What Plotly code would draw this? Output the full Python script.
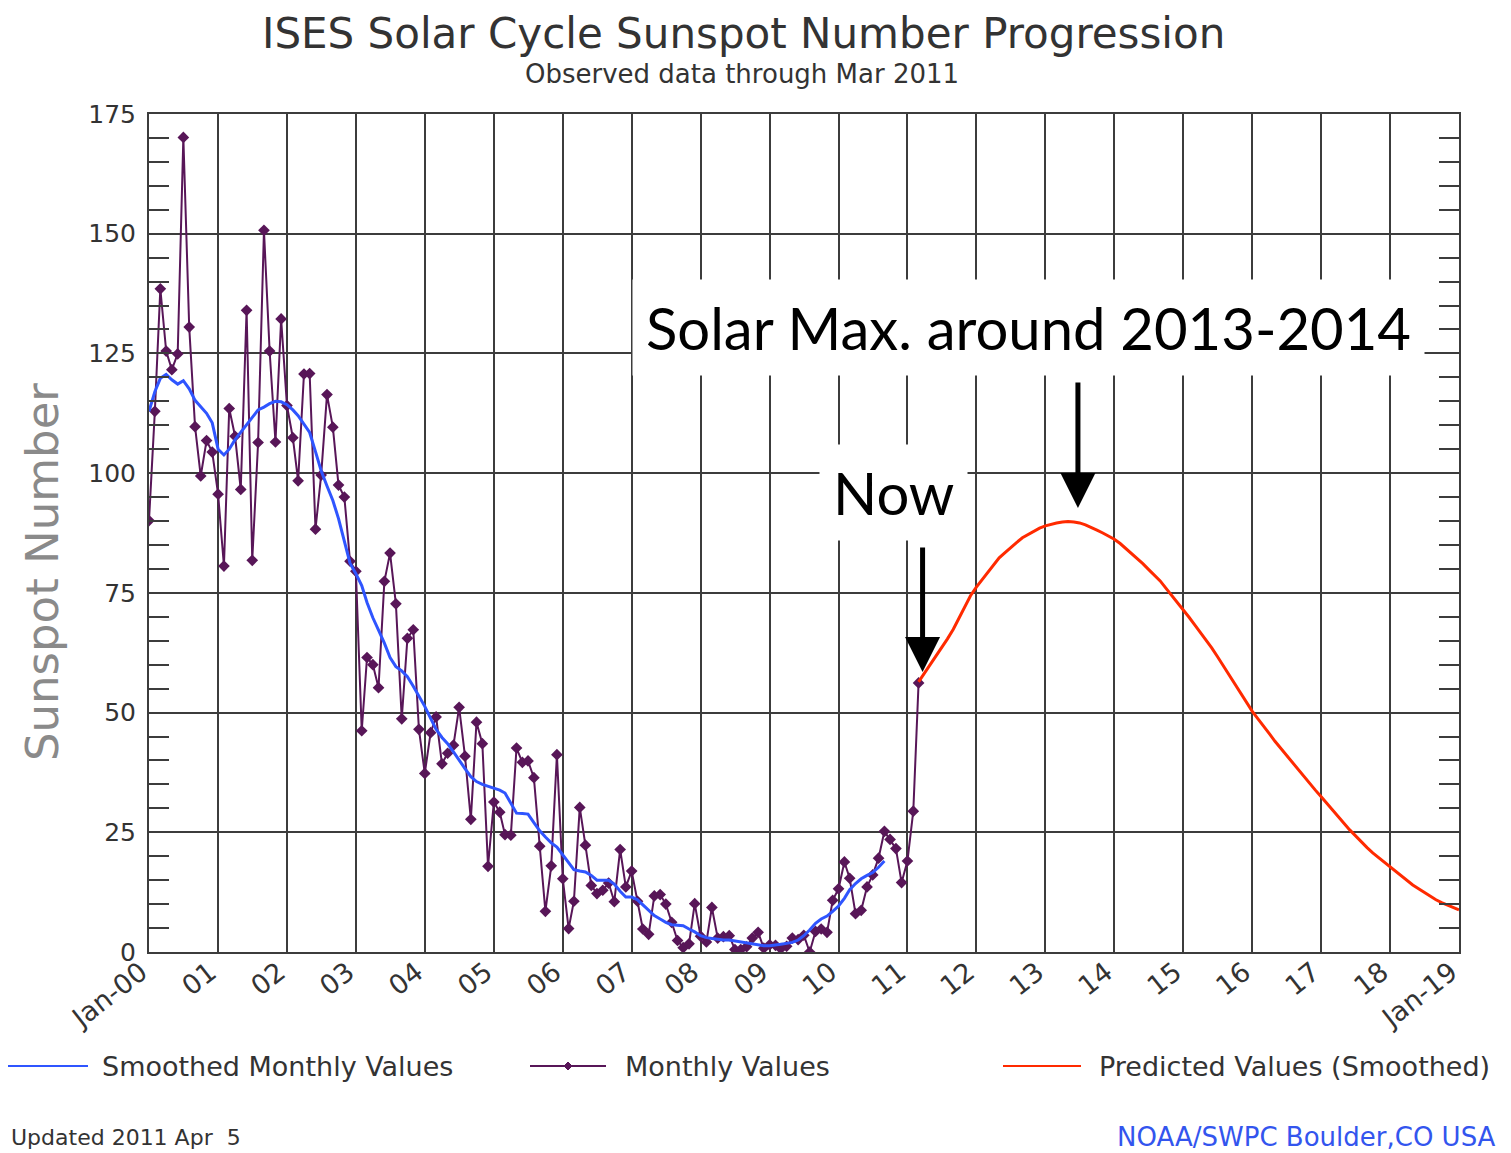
import plotly.graph_objects as go
import pandas as pd

# ---------------- data ----------------
monthly_values = [
    # 2000
    90.1, 112.9, 138.5, 125.5, 121.6, 124.9, 170.1, 130.5, 109.7, 99.4, 106.8, 104.4,
    # 2001
    95.6, 80.6, 113.5, 107.7, 96.6, 134.0, 81.8, 106.4, 150.7, 125.5, 106.5, 132.2,
    # 2002
    114.1, 107.4, 98.4, 120.7, 120.8, 88.3, 99.6, 116.4, 109.6, 97.5, 95.0, 81.6,
    # 2003
    79.5, 46.2, 61.5, 60.0, 55.2, 77.4, 83.3, 72.7, 48.7, 65.5, 67.3, 46.5,
    # 2004
    37.3, 45.8, 49.1, 39.3, 41.5, 43.2, 51.1, 40.9, 27.7, 48.0, 43.5, 17.9,
    # 2005
    31.3, 29.2, 24.5, 24.4, 42.6, 39.6, 39.9, 36.4, 22.1, 8.5, 18.0, 41.2,
    # 2006
    15.3, 4.9, 10.6, 30.2, 22.3, 13.9, 12.2, 12.9, 14.4, 10.5, 21.4, 13.6,
    # 2007
    16.9, 10.6, 4.8, 3.7, 11.7, 12.0, 10.0, 6.2, 2.4, 0.9, 1.7, 10.1,
    # 2008
    3.3, 2.1, 9.3, 2.9, 3.2, 3.4, 0.5, 0.5, 1.1, 2.9, 4.1, 0.8,
    # 2009
    1.5, 1.4, 0.7, 1.2, 2.9, 2.6, 3.5, 0.0, 4.3, 4.8, 4.1, 10.8,
    # 2010
    13.2, 18.8, 15.4, 8.0, 8.7, 13.6, 16.1, 19.6, 25.2, 23.5, 21.6, 14.5,
    # 2011
    19.0, 29.4, 56.2,
]

smoothed_values = [
    # 2000
    112.9, 117.0, 119.8, 120.6, 119.5, 118.6, 119.3, 117.6, 115.2, 113.8, 112.5, 110.5,
    # 2001
    105.0, 103.8, 105.0, 107.0, 108.5, 110.0, 111.5, 113.2, 113.8, 114.5, 115.0, 114.9,
    # 2002
    114.3, 113.2, 112.0, 110.3, 108.5, 104.5, 100.5, 97.3, 94.3, 90.5, 86.0, 81.2,
    # 2003
    79.0, 76.5, 73.0, 69.8, 67.2, 64.5, 61.5, 59.6, 58.7, 57.5, 55.5, 53.5,
    # 2004
    51.3, 48.8, 46.5, 44.8, 43.5, 41.8, 40.0, 38.3, 36.6, 35.6, 35.0, 34.6,
    # 2005
    34.3, 33.8, 33.2, 31.0, 29.0, 28.9, 28.8, 27.0, 25.3, 24.0, 22.8, 21.9,
    # 2006
    20.2, 18.5, 17.2, 16.9, 16.7, 16.0, 15.0, 15.0, 15.0, 14.2, 12.7, 11.5,
    # 2007
    11.5, 10.9, 9.8, 8.6, 7.6, 6.9, 6.2, 5.7, 5.6, 5.5, 4.8, 4.2,
    # 2008
    3.4, 3.0, 2.8, 2.6, 2.5, 2.5, 2.3, 2.1, 1.9, 1.7, 1.5, 1.3,
    # 2009
    1.3, 1.4, 1.6, 1.8, 2.0, 2.5, 3.4, 4.6, 6.0, 6.9, 7.5, 8.5,
    # 2010
    9.6, 11.2, 13.0, 14.3, 15.3, 16.0, 16.6, 17.7, 19.0,
]

predicted_values = [
    # 2011 (Mar-Dec)
    56.4, 58.2, 59.9, 61.6, 63.5, 65.4, 67.4, 69.8, 72.1, 74.4,
    # 2012
    76.2, 77.8, 79.3, 80.9, 82.3, 83.4, 84.5, 85.5, 86.5, 87.2, 87.9, 88.5,
    # 2013
    89.0, 89.4, 89.6, 89.8, 89.9, 89.8, 89.6, 89.2, 88.7, 88.1, 87.5, 86.9,
    # 2014
    86.2, 85.3, 84.3, 83.3, 82.3, 81.1, 79.9, 78.7, 77.5, 76.0, 74.5, 73.0,
    # 2015
    71.4, 69.9, 68.4, 66.8, 65.3, 63.5, 61.7, 59.8, 58.0, 56.1, 54.1, 52.2,
    # 2016
    50.3, 48.7, 47.1, 45.6, 44.0, 42.5, 41.0, 39.5, 38.0, 36.6, 35.2, 33.8,
    # 2017
    32.4, 31.0, 29.6, 28.2, 26.8, 25.5, 24.3, 23.0, 21.8, 20.7, 19.7, 18.7,
    # 2018
    17.7, 16.7, 15.8, 14.9, 14.0, 13.2, 12.4, 11.6, 10.9, 10.3, 9.8, 9.3,
    # 2019
    8.8,
]

tick_labels = ["Jan-00", "01", "02", "03", "04", "05", "06", "07", "08", "09",
               "10", "11", "12", "13", "14", "15", "16", "17", "18", "Jan-19"]

monthly_dates = pd.date_range("2000-01-01", periods=len(monthly_values), freq="MS")
smoothed_dates = pd.date_range("2000-01-01", periods=len(smoothed_values), freq="MS")
predicted_dates = pd.date_range("2011-03-01", periods=len(predicted_values), freq="MS")
year_ticks = pd.date_range("2000-01-01", periods=len(tick_labels), freq="YS")

# ---------------- layout geometry (page pixels) ----------------
PAGE_W, PAGE_H = 1511, 1153
OFF = 8                      # body margin of the html page
L, R, T, B = 149, 1459, 114, 952
W, H = PAGE_W - OFF, PAGE_H - OFF


def px(x):
    return (x - L) / (R - L)


def py(y):
    return (B - y) / (B - T)


GRID = "#3c3c3c"
BLUE = "#2f55ff"
PURPLE = "#581658"
RED = "#ff2a00"
TXT = "#333333"
FONT = "DejaVu Sans"

fig = go.Figure()
fig.add_trace(go.Scatter(x=monthly_dates, y=monthly_values, mode="lines+markers",
                         line=dict(color=PURPLE, width=2),
                         marker=dict(symbol="diamond", size=9, color=PURPLE),
                         name="Monthly Values", showlegend=False))
fig.add_trace(go.Scatter(x=smoothed_dates, y=smoothed_values, mode="lines",
                         line=dict(color=BLUE, width=3),
                         name="Smoothed Monthly Values", showlegend=False))
fig.add_trace(go.Scatter(x=predicted_dates, y=predicted_values, mode="lines",
                         line=dict(color=RED, width=3),
                         name="Predicted Values (Smoothed)", showlegend=False))

fig.update_layout(
    width=W, height=H,
    margin=dict(l=L - OFF, r=PAGE_W - R, t=T - OFF, b=PAGE_H - B, pad=0),
    paper_bgcolor="white", plot_bgcolor="white",
    showlegend=False,
    font=dict(family=FONT, color=TXT),
)

fig.update_xaxes(
    type="date", range=[year_ticks[0], year_ticks[-1]],
    tickvals=year_ticks, ticktext=tick_labels, tickangle=-38,
    tickfont=dict(size=27, color=TXT, family=FONT),
    ticklabelshift=-8, ticklabelstandoff=-8,
    showgrid=True, gridcolor=GRID, gridwidth=2,
    showline=True, linecolor=GRID, linewidth=2, mirror=True,
    ticks="", zeroline=False,
)
fig.update_yaxes(
    range=[0, 175], dtick=25, tick0=0,
    tickfont=dict(size=25, color=TXT, family=FONT),
    showgrid=True, gridcolor=GRID, gridwidth=2,
    showline=True, linecolor=GRID, linewidth=2, mirror="ticks",
    ticks="inside", ticklen=20, tickcolor=GRID, tickwidth=2,
    ticklabelstandoff=6,
    minor=dict(dtick=5, ticks="inside", ticklen=20, tickcolor=GRID, tickwidth=2, showgrid=False),
    zeroline=False,
)

ann = []
ann.append(dict(x=px(743), y=py(33), xref="paper", yref="paper", showarrow=False,
                text="ISES Solar Cycle Sunspot Number Progression",
                font=dict(size=42, color=TXT, family=FONT), xanchor="center", yanchor="middle"))
ann.append(dict(x=px(742), y=py(74), xref="paper", yref="paper", showarrow=False,
                text="Observed data through Mar 2011",
                font=dict(size=26, color=TXT, family=FONT), xanchor="center", yanchor="middle"))
ann.append(dict(x=px(42), y=py(572), xref="paper", yref="paper", showarrow=False,
                text="Sunspot Number", textangle=-90,
                font=dict(size=45, color="#8a8a8a", family=FONT), xanchor="center", yanchor="middle"))
ann.append(dict(x=px(1028), y=py(327), xref="paper", yref="paper", showarrow=False,
                text="Solar Max. around 2013-2014", bgcolor="white", borderpad=13,
                font=dict(size=58, color="black", family="Lato"), xanchor="center", yanchor="middle"))
ann.append(dict(x=px(893), y=py(492), xref="paper", yref="paper", showarrow=False,
                text="Now", bgcolor="white", borderpad=13,
                font=dict(size=58, color="black", family="Lato"), xanchor="center", yanchor="middle"))
# arrows anchored to data
peak_idx = list(predicted_dates).index(pd.Timestamp("2013-06-01"))
ann.append(dict(x=predicted_dates[peak_idx], y=predicted_values[peak_idx], xref="x", yref="y",
                text="", showarrow=True, ax=0, ay=-141, arrowhead=2, arrowsize=1.4,
                arrowwidth=5, arrowcolor="black", standoff=14, xshift=4))
ann.append(dict(x=monthly_dates[-1], y=monthly_values[-1], xref="x", yref="y",
                text="", showarrow=True, ax=0, ay=-137, arrowhead=2, arrowsize=1.4,
                arrowwidth=5, arrowcolor="black", standoff=11, xshift=4))

# legend (manual)
legend_items = [
    ("Smoothed Monthly Values", BLUE, 8, 88, 100, False),
    ("Monthly Values", PURPLE, 530, 606, 623, True),
    ("Predicted Values (Smoothed)", RED, 1003, 1081, 1097, False),
]
shapes = []
LY = 1066
for label, col, x0, x1, tx, mark in legend_items:
    shapes.append(dict(type="line", xref="paper", yref="paper", x0=px(x0), x1=px(x1),
                       y0=py(LY), y1=py(LY), line=dict(color=col, width=2)))
    if mark:
        cx = (x0 + x1) / 2
        d = 4
        shapes.append(dict(type="path", xref="paper", yref="paper",
                           path=f"M {px(cx - d)} {py(LY)} L {px(cx)} {py(LY - d)} L {px(cx + d)} {py(LY)} L {px(cx)} {py(LY + d)} Z",
                           fillcolor=col, line=dict(color=col, width=1)))
    ann.append(dict(x=px(tx), y=py(LY), xref="paper", yref="paper", showarrow=False,
                    text=label, font=dict(size=27, color=TXT, family=FONT),
                    xanchor="left", yanchor="middle"))

ann.append(dict(x=px(9), y=py(1137), xref="paper", yref="paper", showarrow=False,
                text="Updated 2011 Apr  5", font=dict(size=22, color=TXT, family=FONT),
                xanchor="left", yanchor="middle"))
ann.append(dict(x=px(1498), y=py(1137), xref="paper", yref="paper", showarrow=False,
                text="NOAA/SWPC Boulder,CO USA", font=dict(size=26, color="#3355ee", family=FONT),
                xanchor="right", yanchor="middle"))

fig.update_layout(annotations=ann, shapes=shapes)

fig.write_html("out.html")
